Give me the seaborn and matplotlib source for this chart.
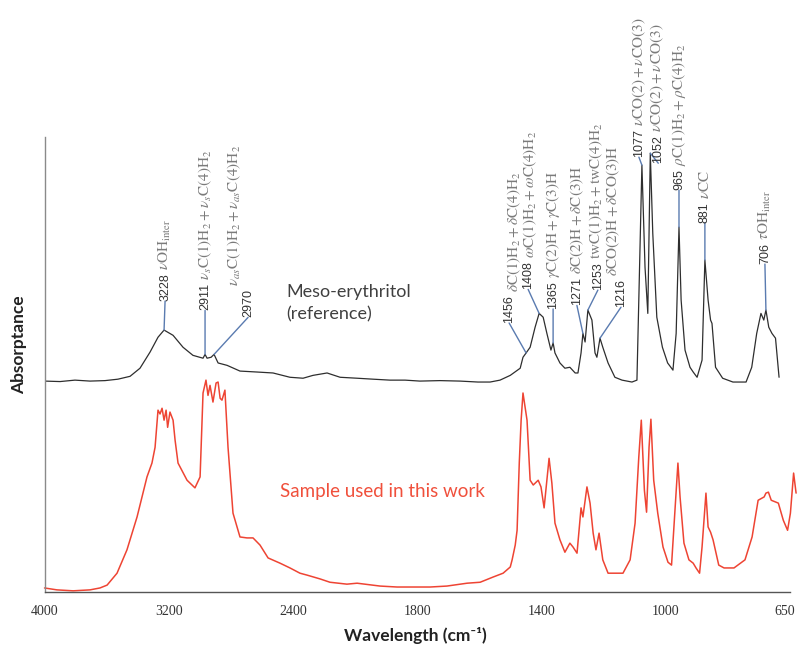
import numpy as np
import pandas as pd
import matplotlib
matplotlib.use("Agg")
import matplotlib.pyplot as plt
import matplotlib.transforms as mtransforms
import seaborn as sns
from matplotlib.ticker import FixedLocator

# ---------------- data ----------------
# Meso-erythritol reference spectrum (wavenumber cm-1, absorptance a.u.)
ref_wn = [4000, 3900, 3804, 3707, 3610, 3527, 3449, 3385, 3320, 3269,
          3230, 3172, 3108, 3044, 2979, 2966, 2953, 2927, 2908, 2882,
          2824, 2741, 2631, 2528, 2419, 2351, 2303, 2235, 2172, 2090,
          2013, 1931, 1858, 1791, 1726, 1662, 1604, 1565, 1533, 1500,
          1468, 1459, 1449, 1436, 1420, 1407, 1394, 1382, 1369, 1362,
          1356, 1340, 1324, 1308, 1291, 1282, 1272, 1266, 1259, 1250,
          1237, 1227, 1221, 1211, 1202, 1185, 1163, 1140, 1108, 1092,
          1086, 1076, 1066, 1057, 1049, 1041, 1028, 1010, 994, 979,
          970, 962, 956, 945, 931, 922, 911, 897, 889, 880,
          873, 869, 859, 839, 810, 773, 757, 743, 731, 723,
          717, 709, 700, 690, 680]
ref_abs = [0.388, 0.387, 0.390, 0.388, 0.389, 0.392, 0.398, 0.415, 0.449, 0.480,
           0.495, 0.484, 0.459, 0.442, 0.436, 0.444, 0.436, 0.438, 0.444, 0.426,
           0.421, 0.409, 0.407, 0.405, 0.396, 0.394, 0.400, 0.405, 0.396, 0.394,
           0.392, 0.390, 0.390, 0.388, 0.389, 0.388, 0.386, 0.386, 0.390, 0.400,
           0.415, 0.438, 0.447, 0.459, 0.501, 0.530, 0.522, 0.488, 0.453, 0.468,
           0.447, 0.426, 0.415, 0.417, 0.405, 0.405, 0.447, 0.488, 0.470, 0.537,
           0.516, 0.447, 0.438, 0.478, 0.459, 0.426, 0.396, 0.390, 0.386, 0.390,
           0.558, 0.841, 0.627, 0.530, 0.866, 0.698, 0.522, 0.459, 0.426, 0.411,
           0.488, 0.711, 0.558, 0.453, 0.417, 0.407, 0.396, 0.432, 0.642, 0.558,
           0.516, 0.509, 0.417, 0.394, 0.386, 0.386, 0.417, 0.488, 0.530, 0.516,
           0.537, 0.501, 0.488, 0.478, 0.396]

# Sample used in this work
smp_wn = [4000, 3920, 3816, 3707, 3643, 3597, 3533, 3469, 3404, 3340,
          3308, 3288, 3269, 3256, 3243, 3230, 3217, 3207, 3192, 3172,
          3159, 3140, 3082, 3031, 2998, 2979, 2960, 2947, 2934, 2915,
          2895, 2882, 2869, 2857, 2838, 2818, 2786, 2741, 2696, 2657,
          2612, 2560, 2483, 2419, 2366, 2332, 2269, 2221, 2139, 2090,
          1979, 1897, 1758, 1704, 1639, 1597, 1555, 1523, 1500, 1494,
          1484, 1478, 1471, 1465, 1459, 1446, 1436, 1426, 1410, 1401,
          1391, 1382, 1375, 1366, 1356, 1340, 1324, 1308, 1298, 1285,
          1272, 1266, 1253, 1243, 1233, 1224, 1214, 1202, 1185, 1156,
          1137, 1114, 1098, 1086, 1078, 1068, 1061, 1053, 1047, 1038,
          1025, 1008, 993, 983, 975, 965, 959, 948, 934, 922,
          914, 904, 897, 886, 880, 873, 866, 850, 835, 807,
          776, 756, 739, 722, 717, 710, 702, 682, 668, 656,
          648, 639, 632]
smp_abs = [-0.046, -0.050, -0.052, -0.050, -0.046, -0.040, -0.015, 0.034, 0.103, 0.187,
           0.216, 0.249, 0.327, 0.319, 0.331, 0.306, 0.327, 0.291, 0.323, 0.306,
           0.264, 0.216, 0.180, 0.164, 0.187, 0.363, 0.390, 0.358, 0.379, 0.344,
           0.384, 0.386, 0.352, 0.348, 0.369, 0.249, 0.111, 0.061, 0.059, 0.059,
           0.044, 0.017, 0.006, -0.004, -0.015, -0.019, -0.027, -0.034, -0.038, -0.036,
           -0.042, -0.044, -0.044, -0.042, -0.036, -0.034, -0.023, -0.015, -0.002, 0.013,
           0.044, 0.075, 0.216, 0.306, 0.363, 0.306, 0.180, 0.170, 0.180, 0.166,
           0.122, 0.180, 0.226, 0.174, 0.090, 0.055, 0.029, 0.048, 0.040, 0.027,
           0.122, 0.103, 0.166, 0.132, 0.069, 0.034, 0.069, 0.013, -0.015, -0.015,
           -0.015, 0.013, 0.090, 0.229, 0.306, 0.159, 0.113, 0.249, 0.308, 0.180,
           0.111, 0.040, 0.008, 0.002, 0.096, 0.216, 0.145, 0.048, 0.013, 0.006,
           -0.004, -0.015, 0.040, 0.153, 0.082, 0.071, 0.055, 0.002, -0.004, -0.004,
           0.013, 0.061, 0.138, 0.145, 0.153, 0.155, 0.138, 0.132, 0.096, 0.075,
           0.111, 0.195, 0.153]

# x-axis tick labels (the axis is equally spaced between these values)
x_tick_values = [4000, 3200, 2400, 1800, 1400, 1000, 650]
x_minor_values = [3600, 2800, 2100, 1600, 1200, 825]
y_tick_values = [0.0, 0.1, 0.2, 0.3, 0.4, 0.5, 0.6, 0.7, 0.8, 0.9]

# band assignments on the reference spectrum
band_numbers = ["3228", "2911", "2970", "1456", "1408", "1365", "1271",
                "1253", "1216", "1077", "1052", "965", "881", "706"]
band_labels = [
    r"$\nu\mathrm{OH}_{\mathrm{inter}}$",
    r"$\nu_{s}\mathrm{C(1)H_2} + \nu_{s}\mathrm{C(4)H_2}$",
    r"$\nu_{as}\mathrm{C(1)H_2} + \nu_{as}\mathrm{C(4)H_2}$",
    r"$\delta\mathrm{C(1)H_2} + \delta\mathrm{C(4)H_2}$",
    r"$\omega\mathrm{C(1)H_2} + \omega\mathrm{C(4)H_2}$",
    r"$\gamma\mathrm{C(2)H} + \gamma\mathrm{C(3)H}$",
    r"$\delta\mathrm{C(2)H} + \delta\mathrm{C(3)H}$",
    r"$\mathrm{twC(1)H_2} + \mathrm{twC(4)H_2}$",
    r"$\delta\mathrm{CO(2)H} + \delta\mathrm{CO(3)H}$",
    r"$\nu\mathrm{CO(2)} + \nu\mathrm{CO(3)}$",
    r"$\nu\mathrm{CO(2)} + \nu\mathrm{CO(3)}$",
    r"$\rho\mathrm{C(1)H_2} + \rho\mathrm{C(4)H_2}$",
    r"$\nu\mathrm{CC}$",
    r"$\tau\mathrm{OH}_{\mathrm{inter}}$",
]
# wavenumber on the plotted curve where each leader line touches
band_anchor_wn = [3230, 2966, 2908, 1449, 1407, 1362, 1266,
                  1250, 1211, 1076, 1049, 962, 889, 717]

# ---------------- layout / style ----------------
# text offsets of each label from its peak (pixels, converted to points)
label_offsets_px = [(1, 29), (0, 44), (34, 37), (-17, 30), (-11, 24), (0, 34), (-6, 28),
                    (10, 20), (21, 31), (-3, 8), (8, -10), (0, 37), (0, 37), (-1, 46)]

sns.set_theme(style="white")
plt.rcParams["font.family"] = ["Lato", "DejaVu Sans"]
plt.rcParams["mathtext.fontset"] = "stix"

# piecewise-linear axis: each labelled interval gets the same width
KN = sorted(x_tick_values)
POS = list(range(len(KN)))


def forward(w):
    w = np.asarray(w, dtype=float)
    p = np.interp(w, KN, POS)
    p = np.where(w < KN[0], (w - KN[0]) / (KN[1] - KN[0]), p)
    p = np.where(w > KN[-1], POS[-1] + (w - KN[-1]) / (KN[-1] - KN[-2]), p)
    return p


def inverse(p):
    p = np.asarray(p, dtype=float)
    w = np.interp(p, POS, KN)
    w = np.where(p < 0, KN[0] + p * (KN[1] - KN[0]), w)
    w = np.where(p > POS[-1], KN[-1] + (p - POS[-1]) * (KN[-1] - KN[-2]), w)
    return w


fig = plt.figure(figsize=(7.98, 6.5), dpi=100)
ax = fig.add_axes([0.0558, 0.0892, 0.9338, 0.700])

df_ref = pd.DataFrame({"wn": ref_wn, "A": ref_abs})
df_smp = pd.DataFrame({"wn": smp_wn, "A": smp_abs})

sns.lineplot(data=df_ref, x="wn", y="A", ax=ax, sort=False, estimator=None,
             color="#2e2e2e", lw=0.9)
sns.lineplot(data=df_smp, x="wn", y="A", ax=ax, sort=False, estimator=None,
             color="#ee4433", lw=1.1, clip_on=False)

ax.set_xscale("function", functions=(forward, inverse))
ax.set_xlim(4000, 650)
ax.set_ylim(-0.0545, 0.9)

ax.xaxis.set_major_locator(FixedLocator(x_tick_values))
ax.set_xticks(x_tick_values, labels=[str(v) for v in x_tick_values])
ax.xaxis.set_minor_locator(FixedLocator(x_minor_values))
ax.set_yticks(y_tick_values)
ax.set_yticklabels([])

ax.tick_params(axis="x", which="both", direction="out", length=4, width=0.8,
               color="#555555", pad=5, labelsize=10, labelcolor="#333333")
ax.tick_params(axis="y", direction="out", length=3, width=0.8, color="#555555",
               labelleft=False)
for lbl in ax.get_xticklabels():
    lbl.set_fontfamily("Liberation Serif")
# keep the last tick label inside the canvas
last_lbl = ax.get_xticklabels()[-1]
last_lbl.set_transform(last_lbl.get_transform() +
                       mtransforms.ScaledTranslation(-5 / 100, 0, fig.dpi_scale_trans))

sns.despine(ax=ax)
ax.spines["left"].set_color("#8a8a8a")
ax.spines["bottom"].set_color("#555555")
ax.spines["left"].set_linewidth(1.0)
ax.spines["bottom"].set_linewidth(1.0)

ax.set_xlabel("Wavelength (cm\u207b\u00b9)", fontsize=12.5, fontweight="bold",
              color="#222222")
ax.xaxis.set_label_coords(0.497, -0.076)
ax.set_ylabel("Absorptance", fontsize=12.5, fontweight="bold", color="#222222")
ax.yaxis.set_label_coords(-0.024, 0.543)

ax.text(0.325, 0.676, "Meso-erythritol\n(reference)", transform=ax.transAxes,
        ha="left", va="top", fontsize=13, color="#404040", linespacing=1.45)
ax.text(0.453, 0.22, "Sample used in this work", transform=ax.transAxes,
        ha="center", va="center", fontsize=13.5, color="#f0503c")

ref_wn_asc = ref_wn[::-1]
ref_abs_asc = ref_abs[::-1]
for wn, num, lab, (dx, dy) in zip(band_anchor_wn, band_numbers, band_labels,
                                  label_offsets_px):
    y0 = float(np.interp(wn, ref_wn_asc, ref_abs_asc))
    t = ax.annotate(num, xy=(wn, y0), xytext=(dx * 0.72, dy * 0.72),
                    textcoords="offset points", rotation=90,
                    rotation_mode="anchor", ha="left", va="center",
                    fontsize=9, family="Liberation Sans", color="#333333",
                    arrowprops=dict(arrowstyle="-", color="#5a7bb0", lw=1.0,
                                    relpos=(0.5, 0.0), patchA=None,
                                    shrinkA=0, shrinkB=0))
    ax.annotate(lab, xy=(0.5, 1.0), xycoords=t, xytext=(0, 2.5),
                textcoords="offset points", rotation=90, rotation_mode="anchor",
                ha="left", va="center", fontsize=11, color="#7a7a7a")

fig.savefig("out.png", dpi=100)
